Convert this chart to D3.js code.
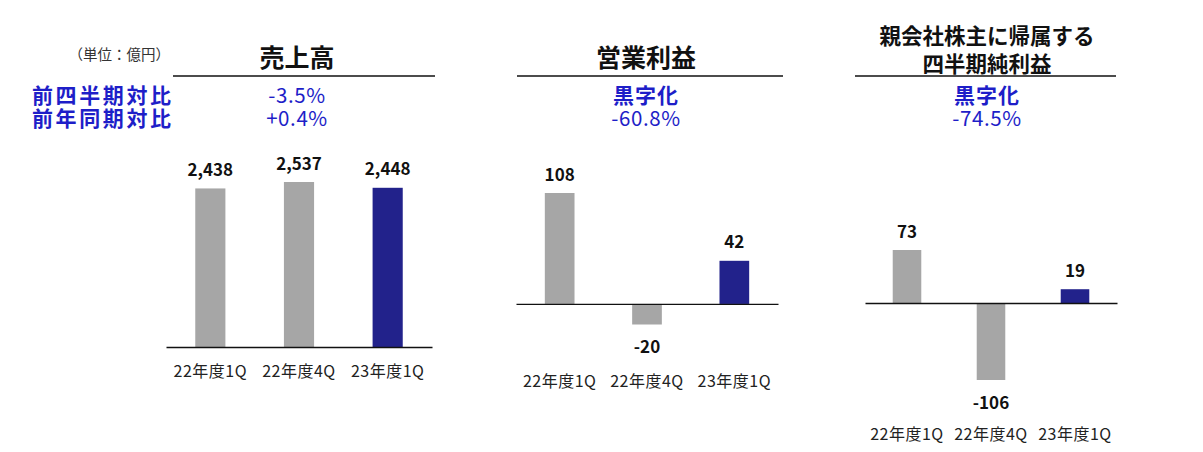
<!DOCTYPE html>
<html><head><meta charset="utf-8">
<script src="https://cdn.jsdelivr.net/npm/d3@7"></script>
<style>
body{margin:0;background:#fff;}
text{font-family:"Noto Sans CJK JP","Noto Sans",sans-serif;}
</style></head>
<body><svg id="c" width="1203" height="452"></svg>
<script>
const categories = ["22年度1Q","22年度4Q","23年度1Q"];
const salesValues = [2438, 2537, 2448];
const opProfitValues = [108, -20, 42];
const netProfitValues = [73, -106, 19];
const panelTitles = [["売上高"],["営業利益"],["親会社株主に帰属する","四半期純利益"]];
const rowLabels = ["前四半期対比","前年同期対比"];
const changeTexts = [["-3.5%","+0.4%"],["黒字化","-60.8%"],["黒字化","-74.5%"]];
const unitLabel = "（単位：億円）";

const GRAY="#a6a6a6", NAVY="#22228b", BLUE="#1e1ec8";
const svg = d3.select("#c");

const panels = [
  {values:salesValues, x0:166, x1:432, yTop:182, yBot:347, cx:297, rule:[173,435], catY:370},
  {values:opProfitValues, x0:516, x1:778, yTop:193, yBot:324.5, cx:646, rule:[517,783], catY:380},
  {values:netProfitValues, x0:865, x1:1117, yTop:250, yBot:380, cx:987, rule:[855,1116], catY:433}
];

// unit label
svg.append("text").attr("x",170).attr("y",53).attr("text-anchor","end")
  .attr("dominant-baseline","central").attr("font-size",14.5).attr("fill","#333").text(unitLabel);
// row labels
rowLabels.forEach((t,i)=>{
  svg.append("text").attr("x",32).attr("y",94+i*23).attr("dominant-baseline","central")
    .attr("font-size",21).attr("letter-spacing",2.6).attr("font-weight",700).attr("fill",BLUE).text(t);
});

panels.forEach((p,pi)=>{
  const g = svg.append("g");
  const ext = d3.extent(p.values.concat([0]));
  const y = d3.scaleLinear().domain([ext[0], ext[1]]).range([p.yBot, p.yTop]);
  const x = d3.scaleBand().domain(categories).range([p.x0,p.x1]).paddingInner(0.66).paddingOuter(0.33);

  // titles
  const tl = panelTitles[pi];
  tl.forEach((t,i)=>{
    const yy = tl.length===1 ? 56 : 34 + i*28;
    g.append("text").attr("x",p.cx).attr("y",yy).attr("text-anchor","middle")
      .attr("dominant-baseline","central").attr("font-size",tl.length===1?25:21.5)
      .attr("font-weight",700).attr("fill","#111").text(t);
  });
  g.append("line").attr("x1",p.rule[0]).attr("x2",p.rule[1]).attr("y1",76).attr("y2",76)
    .attr("stroke","#111").attr("stroke-width",1.3);
  // change texts
  changeTexts[pi].forEach((t,i)=>{
    const isKanji = /[^\x00-\x7F]/.test(t);
    g.append("text").attr("x",p.cx).attr("y",94+i*23).attr("text-anchor","middle")
      .attr("dominant-baseline","central").attr("font-size",isKanji?21:20.5)
      .attr("letter-spacing",isKanji?1:0.6)
      .attr("font-weight",isKanji?700:400).attr("fill",BLUE).text(t);
  });

  // bars
  g.selectAll("rect.bar").data(p.values).join("rect")
    .attr("x",(d,i)=>x(categories[i]))
    .attr("width",x.bandwidth())
    .attr("y",d=>Math.min(y(d),y(0)))
    .attr("height",d=>Math.abs(y(d)-y(0)))
    .attr("fill",(d,i)=>i===2?NAVY:GRAY);

  // baseline axis
  const ax = g.append("g").attr("transform",`translate(0,${y(0)})`)
    .call(d3.axisBottom(x).tickSize(0).tickFormat(""));
  ax.select(".domain").attr("stroke","#111").attr("stroke-width",1.3);

  // value labels
  g.selectAll("text.val").data(p.values).join("text")
    .attr("x",(d,i)=>x(categories[i])+x.bandwidth()/2)
    .attr("y",d=>d>=0? y(d)-20 : y(d)+21)
    .attr("text-anchor","middle").attr("dominant-baseline","central")
    .attr("font-size",17).attr("font-weight",700).attr("fill","#111")
    .text(d=>d3.format(",")(d).replace("−","-"));

  // category labels
  g.selectAll("text.cat").data(categories).join("text")
    .attr("x",d=>x(d)+x.bandwidth()/2).attr("y",p.catY)
    .attr("text-anchor","middle").attr("dominant-baseline","central")
    .attr("font-size",16).attr("letter-spacing",0.5).attr("fill","#222").text(d=>d);
});
</script></body></html>
